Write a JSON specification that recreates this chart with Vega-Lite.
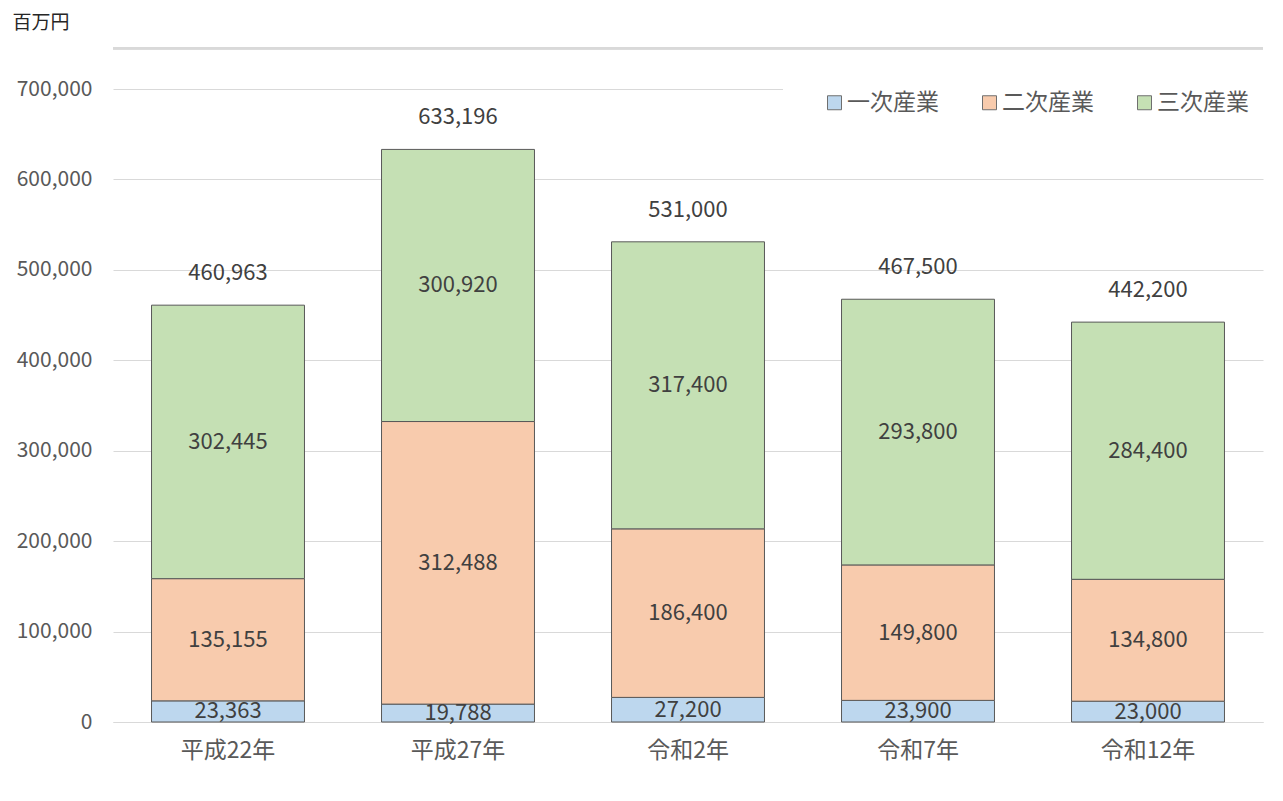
{
  "$schema": "https://vega.github.io/schema/vega-lite/v6.json",
  "width": 1150,
  "height": 633,
  "autosize": {"type": "none"},
  "padding": {"left": 113, "top": 89, "right": 20, "bottom": 79},
  "background": "white",
  "config": {
    "view": {"stroke": null},
    "font": "Noto Sans CJK JP",
    "axisY": {
      "titleAngle": 0,
      "titleAlign": "left",
      "titleBaseline": "middle",
      "titleX": -101,
      "titleY": -67,
      "titleFontSize": 19,
      "titleFontWeight": "normal",
      "titleColor": "#262626",
      "labelFontSize": 21,
      "labelColor": "#595959",
      "labelPadding": 21,
      "ticks": false,
      "domain": false,
      "grid": true,
      "gridColor": "#d9d9d9",
      "gridWidth": 1
    },
    "axisX": {
      "labelAngle": 0,
      "labelFontSize": 23,
      "labelColor": "#595959",
      "labelPadding": 17,
      "ticks": false,
      "domain": true,
      "domainColor": "#d9d9d9",
      "domainWidth": 1
    }
  },
  "data": {
    "values": [
      {"year": "平成22年", "industry": "一次産業", "k": 1, "value": 23363},
      {"year": "平成22年", "industry": "二次産業", "k": 2, "value": 135155},
      {"year": "平成22年", "industry": "三次産業", "k": 3, "value": 302445},
      {"year": "平成27年", "industry": "一次産業", "k": 1, "value": 19788},
      {"year": "平成27年", "industry": "二次産業", "k": 2, "value": 312488},
      {"year": "平成27年", "industry": "三次産業", "k": 3, "value": 300920},
      {"year": "令和2年", "industry": "一次産業", "k": 1, "value": 27200},
      {"year": "令和2年", "industry": "二次産業", "k": 2, "value": 186400},
      {"year": "令和2年", "industry": "三次産業", "k": 3, "value": 317400},
      {"year": "令和7年", "industry": "一次産業", "k": 1, "value": 23900},
      {"year": "令和7年", "industry": "二次産業", "k": 2, "value": 149800},
      {"year": "令和7年", "industry": "三次産業", "k": 3, "value": 293800},
      {"year": "令和12年", "industry": "一次産業", "k": 1, "value": 23000},
      {"year": "令和12年", "industry": "二次産業", "k": 2, "value": 134800},
      {"year": "令和12年", "industry": "三次産業", "k": 3, "value": 284400}
    ]
  },
  "layer": [
    {
      "mark": {"type": "bar", "stroke": "#595959", "strokeWidth": 1},
      "encoding": {
        "x": {
          "field": "year",
          "type": "nominal",
          "sort": ["平成22年", "平成27年", "令和2年", "令和7年", "令和12年"],
          "scale": {"paddingInner": 0.335, "paddingOuter": 0.1675},
          "axis": {"title": null}
        },
        "y": {
          "field": "value",
          "type": "quantitative",
          "stack": "zero",
          "scale": {"domain": [0, 700000], "nice": false},
          "axis": {
            "title": "百万円",
            "values": [0, 100000, 200000, 300000, 400000, 500000, 600000, 700000],
            "format": ",.0f",
            "formatType": "number"
          }
        },
        "color": {
          "field": "industry",
          "type": "nominal",
          "scale": {
            "domain": ["一次産業", "二次産業", "三次産業"],
            "range": ["#BDD7EE", "#F8CBAD", "#C5E0B4"]
          },
          "legend": {
            "title": null,
            "orient": "none",
            "direction": "horizontal",
            "legendX": 670,
            "legendY": -38,
            "padding": 40,
            "fillColor": "white",
            "symbolType": "square",
            "symbolSize": 196,
            "symbolStrokeColor": "#6f6f6f",
            "symbolStrokeWidth": 1,
            "labelFontSize": 23,
            "labelColor": "#595959",
            "labelOffset": 1,
            "columnPadding": 39,
            "labelLimit": 200
          }
        },
        "order": {"field": "k", "type": "quantitative", "sort": "ascending"}
      }
    },
    {
      "transform": [
        {"stack": "value", "groupby": ["year"], "sort": [{"field": "k", "order": "ascending"}], "as": ["s0", "s1"]},
        {"fold": ["s0", "s1"], "as": ["edge", "pos"]},
        {"aggregate": [{"op": "mean", "field": "pos", "as": "mid"}, {"op": "max", "field": "value", "as": "v"}], "groupby": ["year", "industry"]}
      ],
      "mark": {"type": "text", "fontSize": 22, "color": "#404040", "baseline": "middle"},
      "encoding": {
        "x": {
          "field": "year",
          "type": "nominal",
          "sort": ["平成22年", "平成27年", "令和2年", "令和7年", "令和12年"],
          "axis": {"title": null}
        },
        "y": {
          "field": "mid",
          "type": "quantitative",
          "stack": null,
          "axis": {
            "title": "百万円",
            "values": [0, 100000, 200000, 300000, 400000, 500000, 600000, 700000],
            "format": ",.0f",
            "formatType": "number"
          }
        },
        "text": {"field": "v", "type": "quantitative", "format": ","}
      }
    },
    {
      "mark": {"type": "text", "fontSize": 22, "color": "#404040", "baseline": "middle", "dy": -32},
      "encoding": {
        "x": {
          "field": "year",
          "type": "nominal",
          "sort": ["平成22年", "平成27年", "令和2年", "令和7年", "令和12年"],
          "axis": {"title": null}
        },
        "y": {
          "aggregate": "sum",
          "field": "value",
          "type": "quantitative",
          "stack": null,
          "axis": {
            "title": "百万円",
            "values": [0, 100000, 200000, 300000, 400000, 500000, 600000, 700000],
            "format": ",.0f",
            "formatType": "number"
          }
        },
        "text": {"aggregate": "sum", "field": "value", "type": "quantitative", "format": ","}
      }
    },
    {
      "mark": {"type": "rule", "color": "#d9d9d9", "strokeWidth": 2},
      "encoding": {
        "y": {
          "datum": 745000,
          "type": "quantitative",
          "axis": {
            "title": "百万円",
            "values": [0, 100000, 200000, 300000, 400000, 500000, 600000, 700000],
            "format": ",.0f",
            "formatType": "number"
          }
        }
      }
    }
  ]
}
